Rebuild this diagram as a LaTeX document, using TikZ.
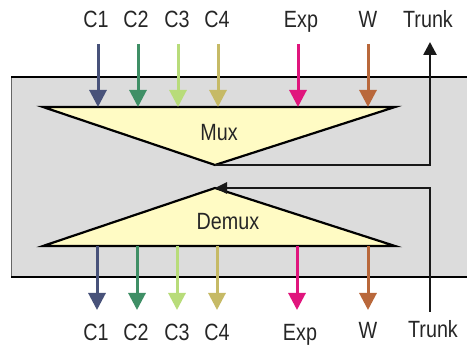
\documentclass[tikz,border=0pt]{standalone}
\usepackage{fontspec}
\setmainfont{Liberation Sans}[FakeStretch=0.84]
\usetikzlibrary{arrows.meta}
\definecolor{cA}{HTML}{48527A}
\definecolor{cB}{HTML}{3F8F66}
\definecolor{cC}{HTML}{B8DC7A}
\definecolor{cD}{HTML}{C6BA66}
\definecolor{cE}{HTML}{E0157D}
\definecolor{cF}{HTML}{B9683B}
\definecolor{boxgray}{HTML}{DCDCDC}
\definecolor{triyellow}{HTML}{FFFBC4}
\tikzset{
  lbl/.style={anchor=base, inner sep=0pt, font=\fontsize{23.5}{26}\selectfont, text=black!85},
  chan/.style={line width=3pt, -{Triangle[length=17pt,width=17pt]}},
  trunkline/.style={line width=2.6pt, black!90},
  tri/.style={fill=triyellow, draw=black, line width=2.2pt, line join=miter},
}
\begin{document}
\begin{tikzpicture}[x=1pt,y=-1pt]
\useasboundingbox (0,0) rectangle (467,350);
% gray box
\fill[boxgray] (11,77) rectangle (470,277);
\draw[black!60, line width=1pt] (11.5,77) -- (11.5,277);
\draw[black, line width=2pt] (11,77) -- (470,77);
\draw[black, line width=2pt] (11,277) -- (470,277);
% triangles
\draw[tri] (43,107) -- (395,107) -- (215,165) -- cycle;
\draw[tri] (43,246) -- (395,246) -- (215,188) -- cycle;
\coordinate (muxapex) at (215,165);
\coordinate (demuxapex) at (215,188);
\node[lbl] (mux) at (219,141) {Mux};
\node[lbl] (demux) at (228,230) {Demux};
% top labels
\node[lbl] (tC1) at (96,28) {C1};
\node[lbl] (tC2) at (136,28) {C2};
\node[lbl] (tC3) at (177,28) {C3};
\node[lbl] (tC4) at (217,28) {C4};
\node[lbl] (tExp) at (301,28) {Exp};
\node[lbl] (tW) at (368,28) {W};
\node[lbl] (tT) at (428,28) {Trunk};
% bottom labels
\node[lbl] (bC1) at (96,341) {C1};
\node[lbl] (bC2) at (136,341) {C2};
\node[lbl] (bC3) at (177,341) {C3};
\node[lbl] (bC4) at (217,341) {C4};
\node[lbl] (bExp) at (300,341) {Exp};
\node[lbl] (bW) at (368,339) {W};
\node[lbl] (bT) at (433,338) {Trunk};
% input arrows
\foreach \n/\x/\c in {C1/98/cA,C2/138/cB,C3/178/cC,C4/218/cD,Exp/298/cE,W/368/cF}{
  \coordinate (in\n) at (\x,44);
  \coordinate (mx\n) at (\x,107);
  \draw[chan,\c] (in\n) -- (mx\n);
}
% output arrows
\foreach \n/\x/\c in {C1/97/cA,C2/137/cB,C3/177/cC,C4/217/cD,Exp/297/cE,W/368/cF}{
  \coordinate (dm\n) at (\x,246);
  \coordinate (out\n) at (\x,310);
  \draw[chan,\c] (dm\n) -- (out\n);
}
% trunk
\coordinate (trunkout) at (430,42);
\coordinate (trunkin) at (430,312);
\draw[trunkline, -{Triangle[length=13pt,width=13pt]}] (muxapex) -- (430,165) -- (trunkout);
\draw[trunkline, -{Triangle[length=12pt,width=11pt]}] (trunkin) -- (430,188) -- (demuxapex);
\end{tikzpicture}
\end{document}
